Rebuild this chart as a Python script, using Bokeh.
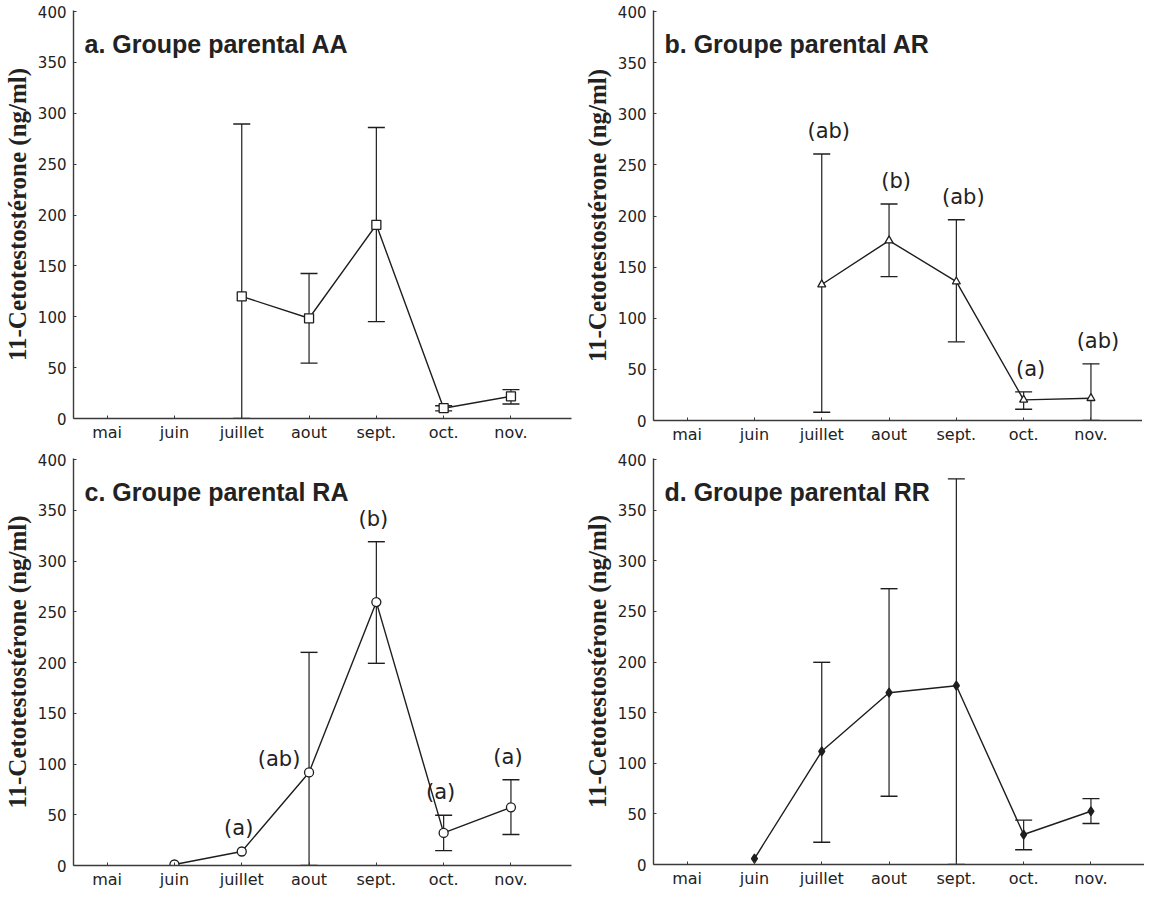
from bokeh.plotting import figure
from bokeh.layouts import column, row
from bokeh.models import ColumnDataSource, Whisker, TeeHead, FixedTicker, Range1d
from bokeh.core.properties import value
from bokeh.embed import file_html
from bokeh.resources import INLINE

months = ["mai", "juin", "juillet", "aout", "sept.", "oct.", "nov."]
y_ticks = [0, 50, 100, 150, 200, 250, 300, 350, 400]
y_label = "11-Cetotestostérone (ng/ml)"

titles = ["a. Groupe parental AA", "b. Groupe parental AR",
          "c. Groupe parental RA", "d. Groupe parental RR"]

# panel a (AA)
a_mean = [None, None, 120.0, 98.5, 190.4, 10.1, 21.8]
a_upper = [None, None, 289.5, 142.5, 286.0, 12.5, 28.4]
a_lower = [None, None, 0.0, 54.4, 95.2, 7.5, 14.3]
a_letters = ["", "", "", "", "", "", ""]

# panel b (AR)
b_mean = [None, None, 133.0, 176.0, 135.8, 20.2, 21.8]
b_upper = [None, None, 260.6, 211.7, 196.4, 28.0, 55.4]
b_lower = [None, None, 8.1, 140.7, 76.9, 11.0, 0.0]
b_letters = ["", "", "(ab)", "(b)", "(ab)", "(a)", "(ab)"]

# panel c (RA)
c_mean = [None, 1.0, 13.8, 91.7, 259.5, 32.1, 57.3]
c_upper = [None, None, None, 210.0, 319.0, 49.5, 84.5]
c_lower = [None, None, None, 0.0, 199.2, 14.7, 30.5]
c_letters = ["", "", "(a)", "(ab)", "(b)", "(a)", "(a)"]

# panel d (RR)
d_mean = [None, 5.9, 111.8, 169.7, 176.6, 29.6, 52.6]
d_upper = [None, None, 199.7, 272.4, 380.9, 43.8, 65.1]
d_lower = [None, None, 22.0, 67.4, 0.0, 14.5, 40.5]
d_letters = ["", "", "", "", "", "", ""]

INK = "#1e1e1e"
AXIS = "#3a3a3a"


def make_panel(title, mean, upper, lower, letters, marker, msize, mfill,
               b_left, b_top, b_bottom, b_right, frame_w, frame_h):
    px_per_cat = 67.3
    x_end = -0.5 + frame_w / px_per_cat
    p = figure(frame_width=frame_w, frame_height=frame_h, output_backend="svg",
               toolbar_location=None, tools="",
               x_range=Range1d(-0.5, x_end), y_range=Range1d(0, 401),
               min_border_left=b_left, min_border_top=b_top,
               min_border_bottom=b_bottom, min_border_right=b_right)
    p.outline_line_color = None
    p.xgrid.grid_line_color = None
    p.ygrid.grid_line_color = None
    p.background_fill_color = "white"
    p.border_fill_color = "white"

    # axes
    p.xaxis.ticker = FixedTicker(ticks=list(range(len(months))))
    p.xaxis.major_label_overrides = {i: m for i, m in enumerate(months)}
    p.yaxis.ticker = FixedTicker(ticks=y_ticks)
    for ax in (p.xaxis[0], p.yaxis[0]):
        ax.axis_line_color = AXIS
        ax.axis_line_width = 1.4
        ax.major_tick_line_color = AXIS
        ax.major_tick_in = 3
        ax.major_tick_out = 0
        ax.minor_tick_line_color = None
        ax.major_label_text_font = "DejaVu Sans"
        ax.major_label_text_color = "#222222"
    p.xaxis.major_label_text_font_size = "16px"
    p.yaxis.major_label_text_font_size = "15px"
    p.xaxis.major_label_standoff = 4
    p.yaxis.major_label_standoff = 7
    p.yaxis.axis_label = y_label
    p.yaxis.axis_label_text_font = "Liberation Serif"
    p.yaxis.axis_label_text_font_style = "bold"
    p.yaxis.axis_label_text_font_size = "25px"
    p.yaxis.axis_label_text_color = "#222222"
    p.yaxis.axis_label_standoff = 4

    xs = [i for i, v in enumerate(mean) if v is not None]
    ys = [mean[i] for i in xs]
    src = ColumnDataSource(dict(x=xs, y=ys))

    ex = [i for i, v in enumerate(upper) if v is not None]
    esrc = ColumnDataSource(dict(x=ex, upper=[upper[i] for i in ex],
                                 lower=[lower[i] for i in ex]))
    w = Whisker(base="x", upper="upper", lower="lower", source=esrc,
                line_color=INK, line_width=1.2,
                upper_head=TeeHead(size=17, line_color=INK, line_width=1.4),
                lower_head=TeeHead(size=17, line_color=INK, line_width=1.4))
    p.add_layout(w)

    p.line("x", "y", source=src, line_color=INK, line_width=1.4)
    p.scatter("x", "y", source=src, marker=marker, size=msize,
              line_color=INK, line_width=1.3,
              fill_color=INK if mfill else "white")

    # significance letters, placed above the upper bar
    lx, ly, lt, xo, yo = [], [], [], [], []
    for i, t in enumerate(letters):
        if not t:
            continue
        lx.append(i)
        lt.append(t)
        top = upper[i] if upper[i] is not None else mean[i]
        if t == "(ab)" and upper[i] is not None and lower[i] == 0.0 and mean[i] < 100 and marker == "circle":
            # label drawn to the left of the point
            ly.append(mean[i])
            xo.append(-30)
            yo.append(-13)
        else:
            ly.append(top)
            xo.append(7 if marker == "triangle" else -3)
            yo.append(-23)
    if lx:
        lsrc = ColumnDataSource(dict(x=lx, y=ly, t=lt, xo=xo, yo=yo))
        p.text("x", "y", text="t", source=lsrc, x_offset="xo", y_offset="yo",
               text_font=value("DejaVu Sans"), text_font_size="21px",
               text_align="center", text_baseline="middle", text_color="#222222")

    # panel title
    tsrc = ColumnDataSource(dict(x=[-0.5], y=[400], t=[title]))
    p.text("x", "y", text="t", source=tsrc, x_offset=11, y_offset=32,
           text_font=value("Liberation Sans"), text_font_style="bold",
           text_font_size="25px", text_align="left",
           text_baseline="alphabetic", text_color="#222222")
    return p


pa = make_panel(titles[0], a_mean, a_upper, a_lower, a_letters, "square", 9, False,
                b_left=71, b_top=9, b_bottom=25, b_right=9, frame_w=498, frame_h=408)
pb = make_panel(titles[1], b_mean, b_upper, b_lower, b_letters, "triangle", 8, False,
                b_left=71, b_top=10, b_bottom=22, b_right=0, frame_w=489, frame_h=410)
pc = make_panel(titles[2], c_mean, c_upper, c_lower, c_letters, "circle", 9, False,
                b_left=71, b_top=9, b_bottom=25, b_right=9, frame_w=498, frame_h=407)
pd = make_panel(titles[3], d_mean, d_upper, d_lower, d_letters, "diamond", 9, True,
                b_left=69, b_top=12, b_bottom=23, b_right=0, frame_w=491, frame_h=406)

layout = column(row(pa, pb, spacing=0), row(pc, pd, spacing=0), spacing=0)

open("out.html", "w").write(file_html(layout, INLINE))
